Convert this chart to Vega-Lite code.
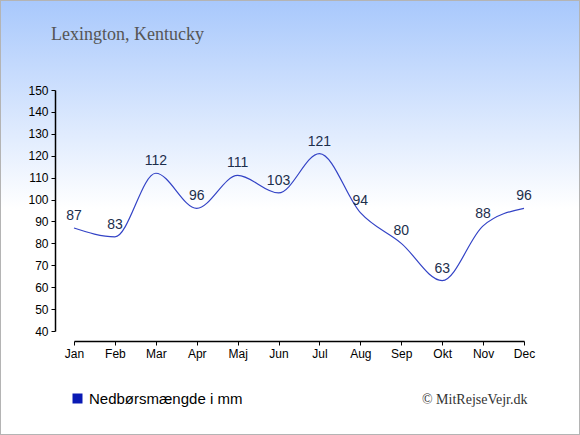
{
  "$schema": "https://vega.github.io/schema/vega-lite/v6.json",
  "width": 580,
  "height": 435,
  "autosize": "none",
  "padding": 0,
  "title": {
    "text": "Lexington, Kentucky",
    "anchor": "start",
    "frame": "group",
    "font": "Liberation Serif",
    "fontSize": 18,
    "fontWeight": "normal",
    "color": "#555555",
    "baseline": "alphabetic",
    "dx": 51,
    "dy": 58,
    "offset": 0
  },
  "data": {
    "values": [
      {"month": "Jan", "mm": 87, "serie": "Nedbørsmængde i mm"},
      {"month": "Feb", "mm": 83, "serie": "Nedbørsmængde i mm"},
      {"month": "Mar", "mm": 112, "serie": "Nedbørsmængde i mm"},
      {"month": "Apr", "mm": 96, "serie": "Nedbørsmængde i mm"},
      {"month": "Maj", "mm": 111, "serie": "Nedbørsmængde i mm"},
      {"month": "Jun", "mm": 103, "serie": "Nedbørsmængde i mm"},
      {"month": "Jul", "mm": 121, "serie": "Nedbørsmængde i mm"},
      {"month": "Aug", "mm": 94, "serie": "Nedbørsmængde i mm"},
      {"month": "Sep", "mm": 80, "serie": "Nedbørsmængde i mm"},
      {"month": "Okt", "mm": 63, "serie": "Nedbørsmængde i mm"},
      {"month": "Nov", "mm": 88, "serie": "Nedbørsmængde i mm"},
      {"month": "Dec", "mm": 96, "serie": "Nedbørsmængde i mm"}
    ]
  },
  "encoding": {
    "x": {
      "field": "month",
      "type": "ordinal",
      "sort": null,
      "scale": {"type": "point", "range": [74, 524], "padding": 0},
      "axis": {
        "orient": "bottom",
        "offset": -94,
        "labelAngle": 0,
        "labelFont": "Liberation Sans",
        "labelFontSize": 12,
        "labelColor": "#000000",
        "labelPadding": 3,
        "tickSize": 4,
        "tickColor": "#000000",
        "domainColor": "#000000",
        "domainWidth": 1.5,
        "grid": false,
        "title": "© MitRejseVejr.dk",
        "titleFont": "Liberation Serif",
        "titleFontSize": 14,
        "titleFontWeight": "normal",
        "titleColor": "#333333",
        "titleAlign": "right",
        "titleBaseline": "alphabetic",
        "titleX": 527,
        "titleY": 62
      }
    },
    "y": {
      "field": "mm",
      "type": "quantitative",
      "scale": {"domain": [40, 150], "range": [331, 90], "nice": false, "zero": false},
      "axis": {
        "orient": "left",
        "offset": -55,
        "values": [40, 50, 60, 70, 80, 90, 100, 110, 120, 130, 140, 150],
        "labelFont": "Liberation Sans",
        "labelFontSize": 12,
        "labelColor": "#000000",
        "labelPadding": 3,
        "tickSize": 4,
        "tickColor": "#000000",
        "domainColor": "#000000",
        "domainWidth": 1.5,
        "grid": false,
        "title": null
      }
    }
  },
  "layer": [
    {
      "mark": {"type": "line", "interpolate": "monotone", "color": "#3343c6", "strokeWidth": 1.2}
    },
    {
      "mark": {"type": "point", "shape": "square", "filled": true, "opacity": 0, "size": 1},
      "encoding": {
        "color": {
          "field": "serie",
          "type": "nominal",
          "scale": {"range": ["#0a1ab4"]},
          "legend": {
            "title": null,
            "orient": "none",
            "legendX": 70,
            "legendY": 391,
            "symbolType": "square",
            "symbolSize": 100,
            "symbolOpacity": 1,
            "symbolStrokeWidth": 0,
            "labelFont": "Liberation Sans",
            "labelFontSize": 15,
            "labelColor": "#000000",
            "labelOffset": 4
          }
        }
      }
    },
    {
      "mark": {"type": "text", "baseline": "alphabetic", "dy": -8, "font": "Liberation Sans", "fontSize": 14, "color": "#1c2e4c"},
      "encoding": {"text": {"field": "mm", "type": "quantitative"}}
    }
  ],
  "config": {
    "view": {
      "fill": {
        "gradient": "linear",
        "x1": 0, "y1": 0, "x2": 0, "y2": 1,
        "stops": [
          {"offset": 0, "color": "#a8c8fc"},
          {"offset": 0.48, "color": "#ffffff"},
          {"offset": 1, "color": "#ffffff"}
        ]
      },
      "stroke": "#b4b4b4",
      "strokeWidth": 2
    }
  }
}
